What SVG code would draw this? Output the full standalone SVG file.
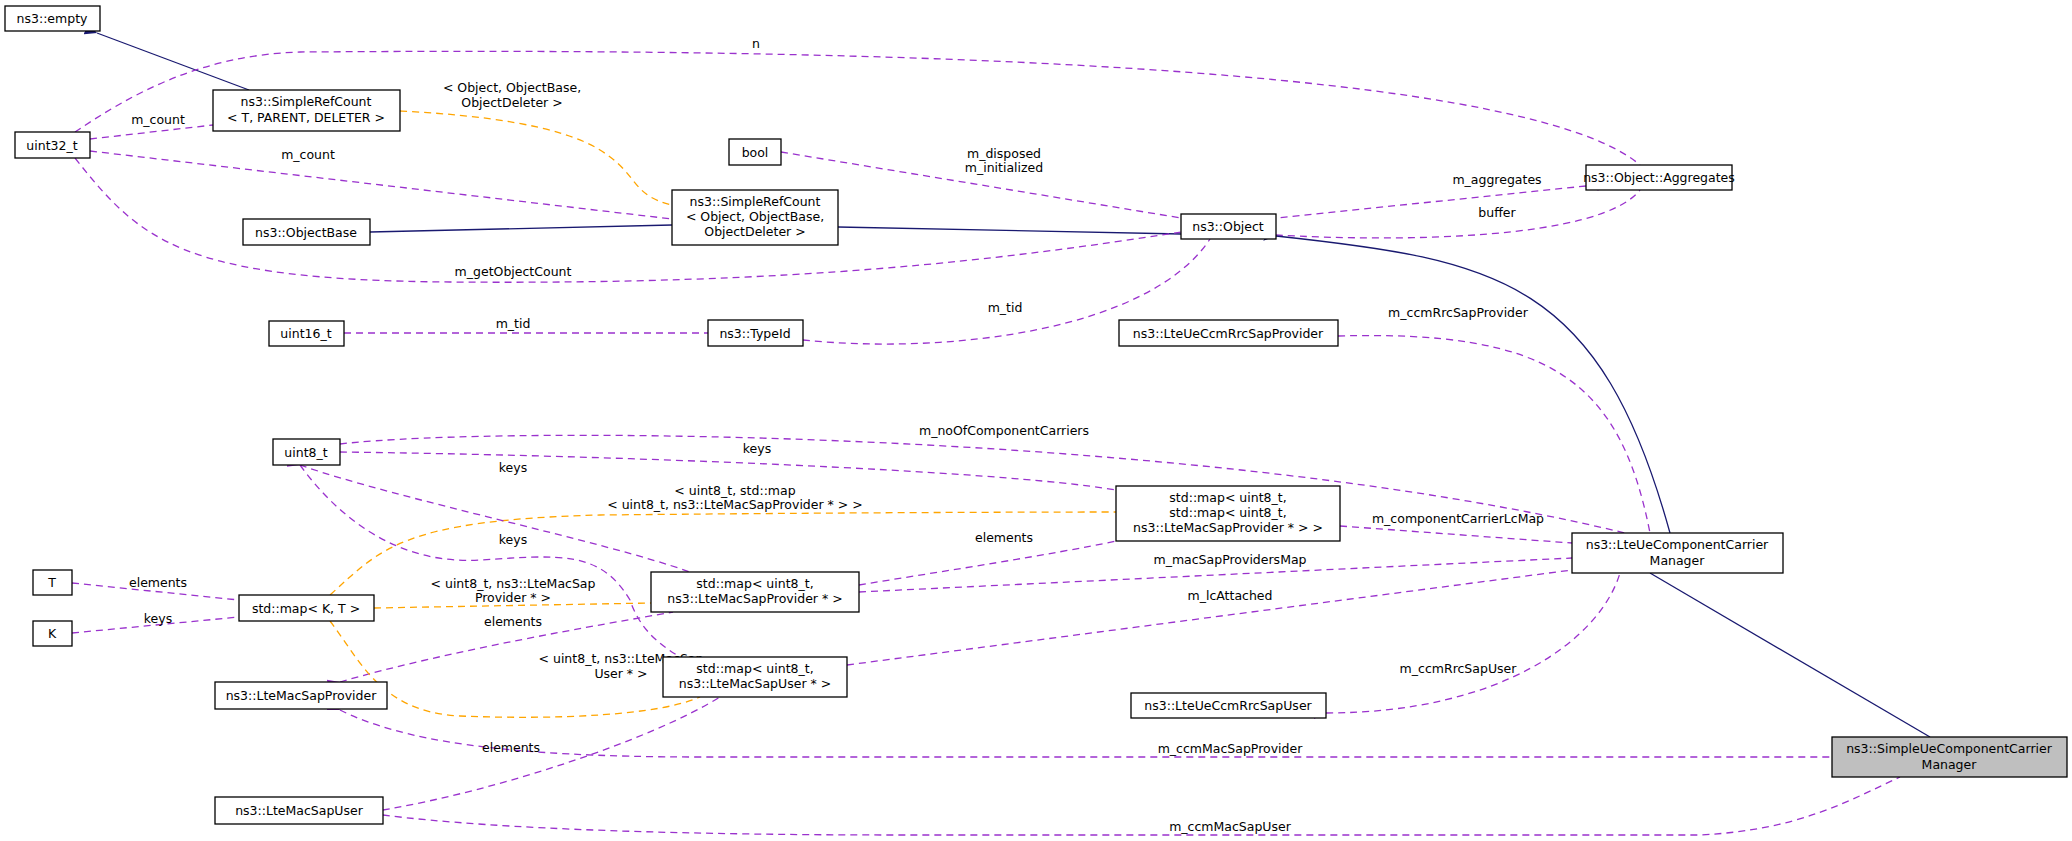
<svg xmlns="http://www.w3.org/2000/svg" width="2072" height="841" viewBox="0 0 2072 841">
<style>
text{font-family:"DejaVu Sans","Liberation Sans",sans-serif;font-size:12.5px;fill:#000;text-anchor:middle}
.n rect{fill:#fff;stroke:#000;stroke-width:1.3}
.g rect{fill:#bfbfbf}
.d{fill:none;stroke:#9a32cd;stroke-width:1.3;stroke-dasharray:7,5;marker-start:url(#ap)}
.o{fill:none;stroke:#ffa500;stroke-width:1.3;stroke-dasharray:7,5;marker-start:url(#ao)}
.s{fill:none;stroke:#191970;stroke-width:1.3;marker-start:url(#as)}
</style>
<defs>
<marker id="ap" viewBox="0 0 10 10" refX="0" refY="5" markerWidth="12" markerHeight="12" markerUnits="userSpaceOnUse" orient="auto-start-reverse"><path d="M10,0 L0,5 L10,10 z" fill="#9a32cd"/></marker>
<marker id="ao" viewBox="0 0 10 10" refX="0" refY="5" markerWidth="12" markerHeight="12" markerUnits="userSpaceOnUse" orient="auto-start-reverse"><path d="M10,0 L0,5 L10,10 z" fill="#ffa500"/></marker>
<marker id="as" viewBox="0 0 10 10" refX="0" refY="5" markerWidth="12" markerHeight="12" markerUnits="userSpaceOnUse" orient="auto-start-reverse"><path d="M10,0 L0,5 L10,10 z" fill="#191970"/></marker>
</defs>
<g id="edges">
<path class="s" d="M97,33 L249,90"/>
<path class="d" d="M90,139 L213,125"/>
<path class="d" d="M90,151 L672,219"/>
<path class="o" d="M400,111 C480,115 560,125 600,150 C640,175 630,195 672,205"/>
<path class="s" d="M370,232 L672,225"/>
<path class="s" d="M838,227 L1181,234"/>
<path class="d" d="M781,152 L1181,218"/>
<path class="d" d="M75,158 C140,240 180,280 450,282 C800,285 1000,260 1181,232"/>
<path class="d" d="M803,340 C950,355 1150,330 1210,239"/>
<path class="d" d="M344,333 L708,333"/>
<path class="d" d="M1586,186 L1276,218"/>
<path class="d" d="M1276,235 C1400,242 1600,240 1640,190"/>
<path class="d" d="M75,132 C130,95 200,55 300,52 C600,50 1500,45 1640,165"/>
<path class="s" d="M1276,236 C1500,260 1600,280 1670,533"/>
<path class="d" d="M1338,336 C1550,330 1620,380 1650,533"/>
<path class="d" d="M340,444 C500,425 1200,430 1625,533"/>
<path class="d" d="M340,452 C600,455 1000,470 1116,490"/>
<path class="o" d="M330,595 C380,550 400,520 600,515 C900,512 1100,512 1116,512"/>
<path class="d" d="M1340,526 L1572,543"/>
<path class="d" d="M859,585 C950,570 1050,555 1116,541"/>
<path class="d" d="M859,592 L1572,558"/>
<path class="d" d="M847,665 L1572,570"/>
<path class="d" d="M1326,713 C1500,713 1600,640 1620,573"/>
<path class="d" d="M300,465 C400,500 600,540 690,572"/>
<path class="o" d="M374,608 L651,603"/>
<path class="d" d="M340,682 C450,650 600,625 673,612"/>
<path class="d" d="M300,465 C340,520 400,565 480,560 C560,555 600,550 630,600 C640,630 660,645 680,657"/>
<path class="o" d="M330,621 C360,660 380,712 460,716 C560,720 660,715 700,697"/>
<path class="d" d="M383,810 C500,790 650,740 720,697"/>
<path class="s" d="M1650,573 L1930,737"/>
<path class="d" d="M340,710 C400,740 500,757 700,757 L1832,757"/>
<path class="d" d="M383,815 C500,830 700,835 900,835 L1700,835 C1800,830 1850,800 1900,777"/>
<path class="d" d="M72,583 L239,600"/>
<path class="d" d="M72,633 L239,617"/>
</g>
<g id="edge-labels">
<text x="158" y="124">m_count</text>
<text x="308" y="159">m_count</text>
<text x="512" y="92">&lt; Object, ObjectBase,</text>
<text x="512" y="107">ObjectDeleter &gt;</text>
<text x="513" y="276">m_getObjectCount</text>
<text x="756" y="48">n</text>
<text x="1004" y="158">m_disposed</text>
<text x="1004" y="172">m_initialized</text>
<text x="1005" y="312">m_tid</text>
<text x="513" y="328">m_tid</text>
<text x="1497" y="184">m_aggregates</text>
<text x="1497" y="217">buffer</text>
<text x="1458" y="317">m_ccmRrcSapProvider</text>
<text x="1004" y="435">m_noOfComponentCarriers</text>
<text x="757" y="453">keys</text>
<text x="513" y="472">keys</text>
<text x="735" y="495">&lt; uint8_t, std::map</text>
<text x="735" y="509">&lt; uint8_t, ns3::LteMacSapProvider * &gt; &gt;</text>
<text x="513" y="544">keys</text>
<text x="1458" y="523">m_componentCarrierLcMap</text>
<text x="1004" y="542">elements</text>
<text x="1230" y="564">m_macSapProvidersMap</text>
<text x="1230" y="600">m_lcAttached</text>
<text x="158" y="587">elements</text>
<text x="158" y="623">keys</text>
<text x="513" y="588">&lt; uint8_t, ns3::LteMacSap</text>
<text x="513" y="602">Provider * &gt;</text>
<text x="513" y="626">elements</text>
<text x="621" y="663">&lt; uint8_t, ns3::LteMacSap</text>
<text x="621" y="678">User * &gt;</text>
<text x="1458" y="673">m_ccmRrcSapUser</text>
<text x="511" y="752">elements</text>
<text x="1230" y="753">m_ccmMacSapProvider</text>
<text x="1230" y="831">m_ccmMacSapUser</text>
</g>
<g id="ns3-empty" class="n"><rect x="5" y="6" width="95" height="25"/><text x="52" y="23">ns3::empty</text></g>
<g id="uint32_t" class="n"><rect x="15" y="132" width="75" height="26"/><text x="52" y="150">uint32_t</text></g>
<g id="SimpleRefCountT" class="n"><rect x="213" y="90" width="187" height="41"/><text x="306" y="106">ns3::SimpleRefCount</text><text x="306" y="122">&lt; T, PARENT, DELETER &gt;</text></g>
<g id="ObjectBase" class="n"><rect x="243" y="219" width="127" height="26"/><text x="306" y="237">ns3::ObjectBase</text></g>
<g id="SimpleRefCountObject" class="n"><rect x="672" y="190" width="166" height="55"/><text x="755" y="206">ns3::SimpleRefCount</text><text x="755" y="221">&lt; Object, ObjectBase,</text><text x="755" y="236">ObjectDeleter &gt;</text></g>
<g id="bool" class="n"><rect x="729" y="139" width="52" height="26"/><text x="755" y="157">bool</text></g>
<g id="Object" class="n"><rect x="1181" y="214" width="95" height="25"/><text x="1228" y="231">ns3::Object</text></g>
<g id="Aggregates" class="n"><rect x="1586" y="165" width="146" height="25"/><text x="1659" y="182">ns3::Object::Aggregates</text></g>
<g id="uint16_t" class="n"><rect x="269" y="321" width="75" height="25"/><text x="306" y="338">uint16_t</text></g>
<g id="TypeId" class="n"><rect x="708" y="320" width="95" height="26"/><text x="755" y="338">ns3::TypeId</text></g>
<g id="LteUeCcmRrcSapProvider" class="n"><rect x="1119" y="320" width="219" height="26"/><text x="1228" y="338">ns3::LteUeCcmRrcSapProvider</text></g>
<g id="uint8_t" class="n"><rect x="273" y="439" width="67" height="26"/><text x="306" y="457">uint8_t</text></g>
<g id="NestedMap" class="n"><rect x="1116" y="486" width="224" height="55"/><text x="1228" y="502">std::map&lt; uint8_t,</text><text x="1228" y="517">std::map&lt; uint8_t,</text><text x="1228" y="532">ns3::LteMacSapProvider * &gt; &gt;</text></g>
<g id="LteUeComponentCarrierManager" class="n"><rect x="1572" y="533" width="211" height="40"/><text x="1677" y="549">ns3::LteUeComponentCarrier</text><text x="1677" y="565">Manager</text></g>
<g id="T" class="n"><rect x="33" y="570" width="39" height="25"/><text x="52" y="587">T</text></g>
<g id="K" class="n"><rect x="33" y="621" width="39" height="25"/><text x="52" y="638">K</text></g>
<g id="MapKT" class="n"><rect x="239" y="595" width="135" height="26"/><text x="306" y="613">std::map&lt; K, T &gt;</text></g>
<g id="ProviderMap" class="n"><rect x="651" y="572" width="208" height="40"/><text x="755" y="588">std::map&lt; uint8_t,</text><text x="755" y="603">ns3::LteMacSapProvider * &gt;</text></g>
<g id="UserMap" class="n"><rect x="663" y="657" width="184" height="40"/><text x="755" y="673">std::map&lt; uint8_t,</text><text x="755" y="688">ns3::LteMacSapUser * &gt;</text></g>
<g id="LteMacSapProvider" class="n"><rect x="215" y="682" width="172" height="27"/><text x="301" y="700">ns3::LteMacSapProvider</text></g>
<g id="LteUeCcmRrcSapUser" class="n"><rect x="1131" y="693" width="195" height="25"/><text x="1228" y="710">ns3::LteUeCcmRrcSapUser</text></g>
<g id="LteMacSapUser" class="n"><rect x="215" y="797" width="168" height="27"/><text x="299" y="815">ns3::LteMacSapUser</text></g>
<g id="SimpleUeComponentCarrierManager" class="n g"><rect x="1832" y="737" width="235" height="40"/><text x="1949" y="753">ns3::SimpleUeComponentCarrier</text><text x="1949" y="769">Manager</text></g>
</svg>
